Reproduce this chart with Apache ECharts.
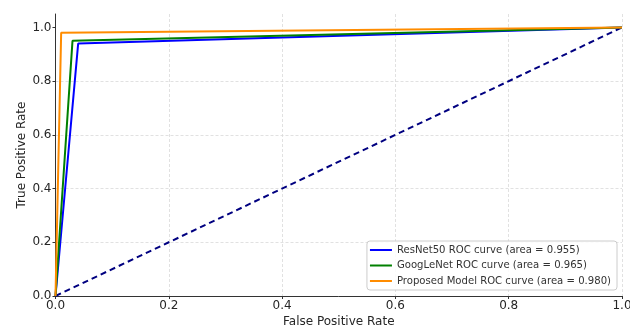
<!DOCTYPE html>
<html><head><meta charset="utf-8">
<script src="https://cdn.jsdelivr.net/npm/echarts@6/dist/echarts.min.js"></script>
<style>html,body{margin:0;padding:0;background:#fff}#c{width:630px;height:327px}</style>
</head><body><div id="c"></div>
<script>
const tickValues = [0, 0.2, 0.4, 0.6, 0.8, 1.0];
const resnetFpr = [0, 0.04, 1];
const resnetTpr = [0, 0.94, 1];
const googFpr = [0, 0.03, 1];
const googTpr = [0, 0.95, 1];
const propFpr = [0, 0.01, 1];
const propTpr = [0, 0.98, 1];
const diagFpr = [0, 1];
const diagTpr = [0, 1];
const names = ['ResNet50 ROC curve (area = 0.955)', 'GoogLeNet ROC curve (area = 0.965)', 'Proposed Model ROC curve (area = 0.980)'];
const colors = ['#0000ff', '#008000', '#ff8c00'];

const zip = (a, b) => a.map((v, i) => [v, b[i]]);
const chart = echarts.init(document.getElementById('c'));
const axisText = {color: '#262626', fontSize: 12, fontFamily: 'DejaVu Sans'};
chart.setOption({
  animation: false,
  grid: {left: 55.5, right: 8, top: 14, bottom: 31, containLabel: false, outerBoundsMode: 'none'},
  xAxis: {
    type: 'value', min: 0, max: 1, interval: 0.2,
    name: 'False Positive Rate', nameLocation: 'middle', nameGap: 20, nameMoveOverlap: false,
    nameTextStyle: axisText,
    axisLine: {onZero: false, lineStyle: {color: '#333', width: 1}},
    axisTick: {show: true, length: 3, lineStyle: {color: '#333'}, customValues: tickValues},
    axisLabel: Object.assign({margin: 4, customValues: tickValues, formatter: v => v.toFixed(1)}, axisText),
    splitLine: {show: true, showMinLine: false, lineStyle: {color: '#d9d9d9', type: [3, 2], width: 0.8}}
  },
  yAxis: {
    type: 'value', min: 0, max: 1.05, interval: 0.2,
    name: 'True Positive Rate', nameLocation: 'middle', nameGap: 28, nameMoveOverlap: false,
    nameTextStyle: axisText,
    axisLine: {show: true, onZero: false, lineStyle: {color: '#333', width: 1}},
    axisTick: {show: true, length: 3, lineStyle: {color: '#333'}, customValues: tickValues},
    axisLabel: Object.assign({margin: 4, customValues: tickValues, formatter: v => v.toFixed(1)}, axisText),
    splitLine: {show: true, showMinLine: false, showMaxLine: false, lineStyle: {color: '#d9d9d9', type: [3, 2], width: 0.8}}
  },
  legend: {
    data: names.map((n, i) => ({name: n, icon: 'rect'})),
    orient: 'vertical', right: 13, bottom: 37,
    itemWidth: 22, itemHeight: 2, itemGap: 3.5,
    backgroundColor: 'rgba(255,255,255,0.85)', borderColor: '#cccccc', borderWidth: 1, borderRadius: 3,
    padding: [3, 6, 3, 3],
    textStyle: {color: '#333', fontSize: 10.1, lineHeight: 12, fontFamily: 'DejaVu Sans'}
  },
  series: [
    {name: 'diag', type: 'line', data: zip(diagFpr, diagTpr), symbol: 'none', lineStyle: {color: '#000080', width: 2, type: [6, 4]}, z: 1},
    {name: names[0], type: 'line', data: zip(resnetFpr, resnetTpr), symbol: 'none', color: colors[0], lineStyle: {width: 2}, z: 2},
    {name: names[1], type: 'line', data: zip(googFpr, googTpr), symbol: 'none', color: colors[1], lineStyle: {width: 2}, z: 3},
    {name: names[2], type: 'line', data: zip(propFpr, propTpr), symbol: 'none', color: colors[2], lineStyle: {width: 2}, z: 4}
  ]
});
</script></body></html>
